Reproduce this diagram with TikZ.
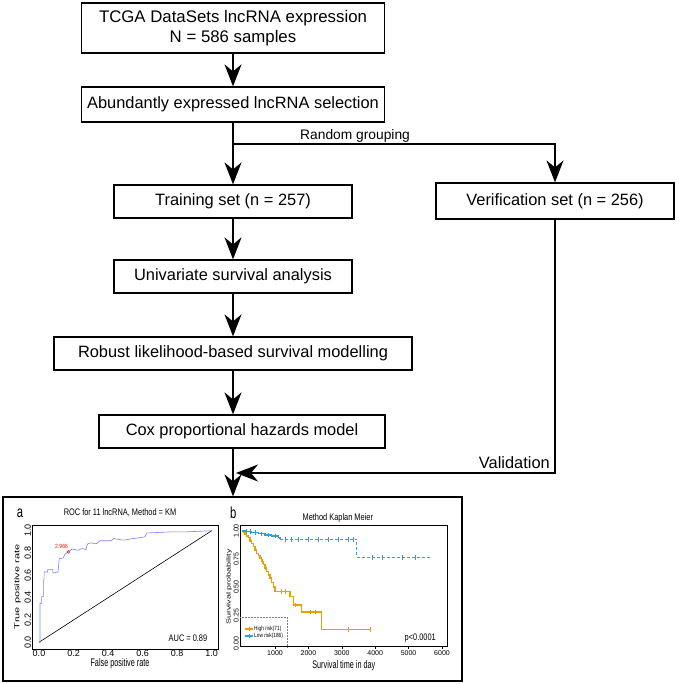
\documentclass[tikz,border=0pt]{standalone}
\usepackage{fontspec}
\setmainfont{Liberation Sans}
\usetikzlibrary{arrows.meta}
\definecolor{hiRisk}{HTML}{E8A200}
\definecolor{loRisk}{HTML}{2E9FDF}
\definecolor{rocLine}{HTML}{8080FF}
\begin{document}
\begin{tikzpicture}[x=1pt, y=-1pt,
		box/.style={draw, line width=1.2pt, minimum height=33pt, inner sep=0pt, font=\fontsize{16.4}{19}\selectfont},
		flow/.style={line width=1.8pt, -{Stealth[length=22pt, width=17pt, inset=7pt]}},
		link/.style={line width=1.8pt},
		note/.style={font=\fontsize{16.4}{19}\selectfont, inner sep=0pt},
		axlab/.style={font=\fontsize{11}{13}\selectfont, xscale=0.66},
		ttl/.style={font=\fontsize{9.5}{11}\selectfont, xscale=0.78, inner sep=0pt},
		tick/.style={font=\fontsize{9}{10}\selectfont, inner sep=1pt},
		ticksm/.style={font=\fontsize{7}{8}\selectfont, inner sep=1pt},
		legtxt/.style={font=\fontsize{6}{7}\selectfont, xscale=0.8, inner sep=0.5pt},
		panlab/.style={font=\fontsize{16}{18}\selectfont, xscale=0.7}
		]
	\useasboundingbox (0,0) rectangle (678,684);
	% flow chart
	\node [box, minimum width=303pt, minimum height=50pt, align=center, font=\fontsize{16.8}{20}\selectfont] (tcga) at (233,28) {TCGA DataSets lncRNA expression\\N = 586 samples};
	\node [box, minimum width=303pt, minimum height=35pt] (abund) at (233,104.5) {Abundantly expressed lncRNA selection};
	\node [box, minimum width=238pt] (train) at (233,201.5) {Training set (n = 257)};
	\node [box, minimum width=238pt, minimum height=36pt] (verif) at (555,201) {Verification set (n = 256)};
	\node [box, minimum width=238pt] (univ) at (233,276.5) {Univariate survival analysis};
	\node [box, minimum width=358pt] (robust) at (233,353.5) {Robust likelihood-based survival modelling};
	\node [box, minimum width=286pt] (cox) at (242,431.5) {Cox proportional hazards model};
	\node [draw, line width=1.2pt, minimum width=459pt, minimum height=184pt, inner sep=0pt] (plots) at (232.5,589) {};
	\coordinate (split) at (233,144);
	\coordinate (valend) at (236,473);
	\node [font=\fontsize{13.8}{16}\selectfont, anchor=base west, inner sep=0pt] (grouplab) at (300,140) {Random grouping};
	\node [note, anchor=base east] (vallab) at (550,468) {Validation};

	\draw [flow] (tcga) -- (abund);
	\draw [link] (abund) -- (split);
	\draw [flow] (split) -- (train);
	\draw [flow] (split) -| (verif);
	\draw [flow] (train) -- (univ);
	\draw [flow] (univ) -- (robust);
	\draw [flow] (robust.south) -- (robust.south |- cox.north);
	\draw [flow] (cox.south -| robust) -- (robust |- plots.north);
	\draw [flow] (verif) |- (valend);

	% panel a: ROC
	\begin{scope}[shift={(39,642.3)}, x=172.7pt, y=111.6pt]
		\draw [line width=0.6pt] (-0.0405,-0.06) rectangle (1.0365,1.051);
		\foreach \t [count=\i] in {0.0,0.2,0.4,0.6,0.8,1.0} {
			\draw [line width=0.5pt] (\t,-0.06) -- (\t,-0.07);
			\node [tick, anchor=north, inner sep=0.5pt] (rocx\i) at (\t,-0.062) {\t};
			\node [tick, rotate=90, anchor=south, inner sep=0.5pt] (rocy\i) at (-0.042,\t) {\t};
		}
		\draw [line width=0.6pt] (0,0) -- (1,1);
		\draw [rocLine, line width=0.6pt] plot coordinates {(0,0) (0.006,0) (0.006,0.35) (0.015,0.35) (0.015,0.41) (0.025,0.41) (0.025,0.56) (0.03,0.56) (0.03,0.63) (0.05,0.63) (0.05,0.65) (0.08,0.65) (0.08,0.62) (0.11,0.63) (0.117,0.75) (0.14,0.755) (0.15,0.79) (0.17,0.81) (0.19,0.835) (0.21,0.83) (0.228,0.825) (0.248,0.84) (0.272,0.83) (0.28,0.88) (0.295,0.89) (0.334,0.885) (0.353,0.91) (0.42,0.91) (0.43,0.93) (0.488,0.915) (0.546,0.93) (0.614,0.945) (0.624,0.98) (0.778,0.99) (0.855,0.99) (0.932,0.995) (1,1)};
		\draw [red, line width=0.4pt] (0.17,0.81) circle (1.5pt);
		\node [red, font=\fontsize{6}{7}\selectfont, xscale=0.85, inner sep=0pt] (cut) at (0.131,0.857) {2.966};
		\node [ttl] (roctitle) at (0.469,1.159) {ROC for 11 lncRNA, Method = KM};
		\node [panlab] (laba) at (-0.11,1.159) {a};
		\node [axlab] (fpr) at (0.469,-0.19) {False positive rate};
		\node [axlab, rotate=90] (tpr) at (-0.125,0.497) {True positive rate};
		\node [ttl, anchor=east] (auc) at (0.975,0.04) {AUC = 0.89};
	\end{scope}

	% panel b: Kaplan Meier
	\begin{scope}[shift={(241.6,643.3)}, x=33.4pt, y=112.3pt]
		\draw [line width=0.6pt] (-0.048,-0.03) rectangle (6.16,1.053);
		\foreach \d in {1,...,6}
			\draw [line width=0.5pt] (\d,-0.03) -- (\d,-0.055) node [ticksm, anchor=north] (kmx\d) {\d000};
		\foreach \p [count=\i] in {0.00,0.25,0.50,0.75,1.00}
			\node [ticksm, rotate=90, anchor=south] (kmy\i) at (-0.05,\p) {\p};
		\draw [hiRisk, line width=1.4pt] plot [const plot] coordinates {(0,1) (0.05,0.99) (0.1,0.97) (0.15,0.955) (0.2,0.94) (0.25,0.91) (0.3,0.89) (0.35,0.86) (0.4,0.83) (0.45,0.8) (0.5,0.78) (0.55,0.76) (0.6,0.73) (0.65,0.7) (0.7,0.67) (0.75,0.64) (0.8,0.61) (0.85,0.58) (0.9,0.54) (0.95,0.5) (1.0,0.46) (1.45,0.415) (1.55,0.34) (1.8,0.28) (2.4,0.125) (3.85,0.125)};
		\foreach \x/\y in {0.62/0.73,0.72/0.67,1.2/0.46,1.3/0.46,1.6/0.34,2.05/0.28,2.2/0.28,3.2/0.125,3.85/0.125}
			\draw [hiRisk, line width=0.6pt] (\x,\y+0.02) -- (\x,\y-0.02);
		\draw [loRisk, line width=1.2pt] plot [const plot] coordinates {(0,1) (0.1,0.995) (0.3,0.985) (0.5,0.975) (0.7,0.965) (0.9,0.955) (1.1,0.945) (1.15,0.926)};
		\draw [loRisk, line width=0.8pt, densely dashed] plot [const plot] coordinates {(1.15,0.926) (3.45,0.766) (5.7,0.766)};
		\foreach \x/\y in {0.15/0.995,0.25/0.995,0.4/0.985,0.6/0.975,0.8/0.965,1.0/0.955,1.3/0.926,1.5/0.926,1.7/0.926,2.0/0.926,2.3/0.926,2.6/0.926,2.9/0.926,3.2/0.926,3.35/0.926,3.9/0.766,4.2/0.766,4.8/0.766,5.2/0.766}
			\draw [loRisk, line width=0.6pt] (\x,\y+0.02) -- (\x,\y-0.02);
		\draw [gray, densely dotted, line width=0.5pt] (-0.048,0.234) -| (1.36,-0.03);
		\draw [hiRisk, line width=1.2pt] (0.1,0.127) -- (0.34,0.127);
		\draw [hiRisk, line width=0.6pt] (0.22,0.147) -- (0.22,0.107);
		\node [legtxt, anchor=west] (leghi) at (0.36,0.127) {High risk(71)};
		\draw [loRisk, line width=1.2pt] (0.1,0.065) -- (0.34,0.065);
		\draw [loRisk, line width=0.6pt] (0.22,0.085) -- (0.22,0.045);
		\node [legtxt, anchor=west] (leglo) at (0.36,0.065) {Low risk(186)};
		\node [ttl] (kmtitle) at (2.88,1.116) {Method Kaplan Meier};
		\node [panlab] (labb) at (-0.25,1.158) {b};
		\node [axlab] (days) at (3.06,-0.2) {Survival time in day};
		\node [axlab, rotate=90, font=\fontsize{9}{11}\selectfont] (surv) at (-0.377,0.5) {Survival probability};
		\node [ttl, anchor=east] (pval) at (5.82,0.047) {p<0.0001};
	\end{scope}
\end{tikzpicture}
\end{document}
